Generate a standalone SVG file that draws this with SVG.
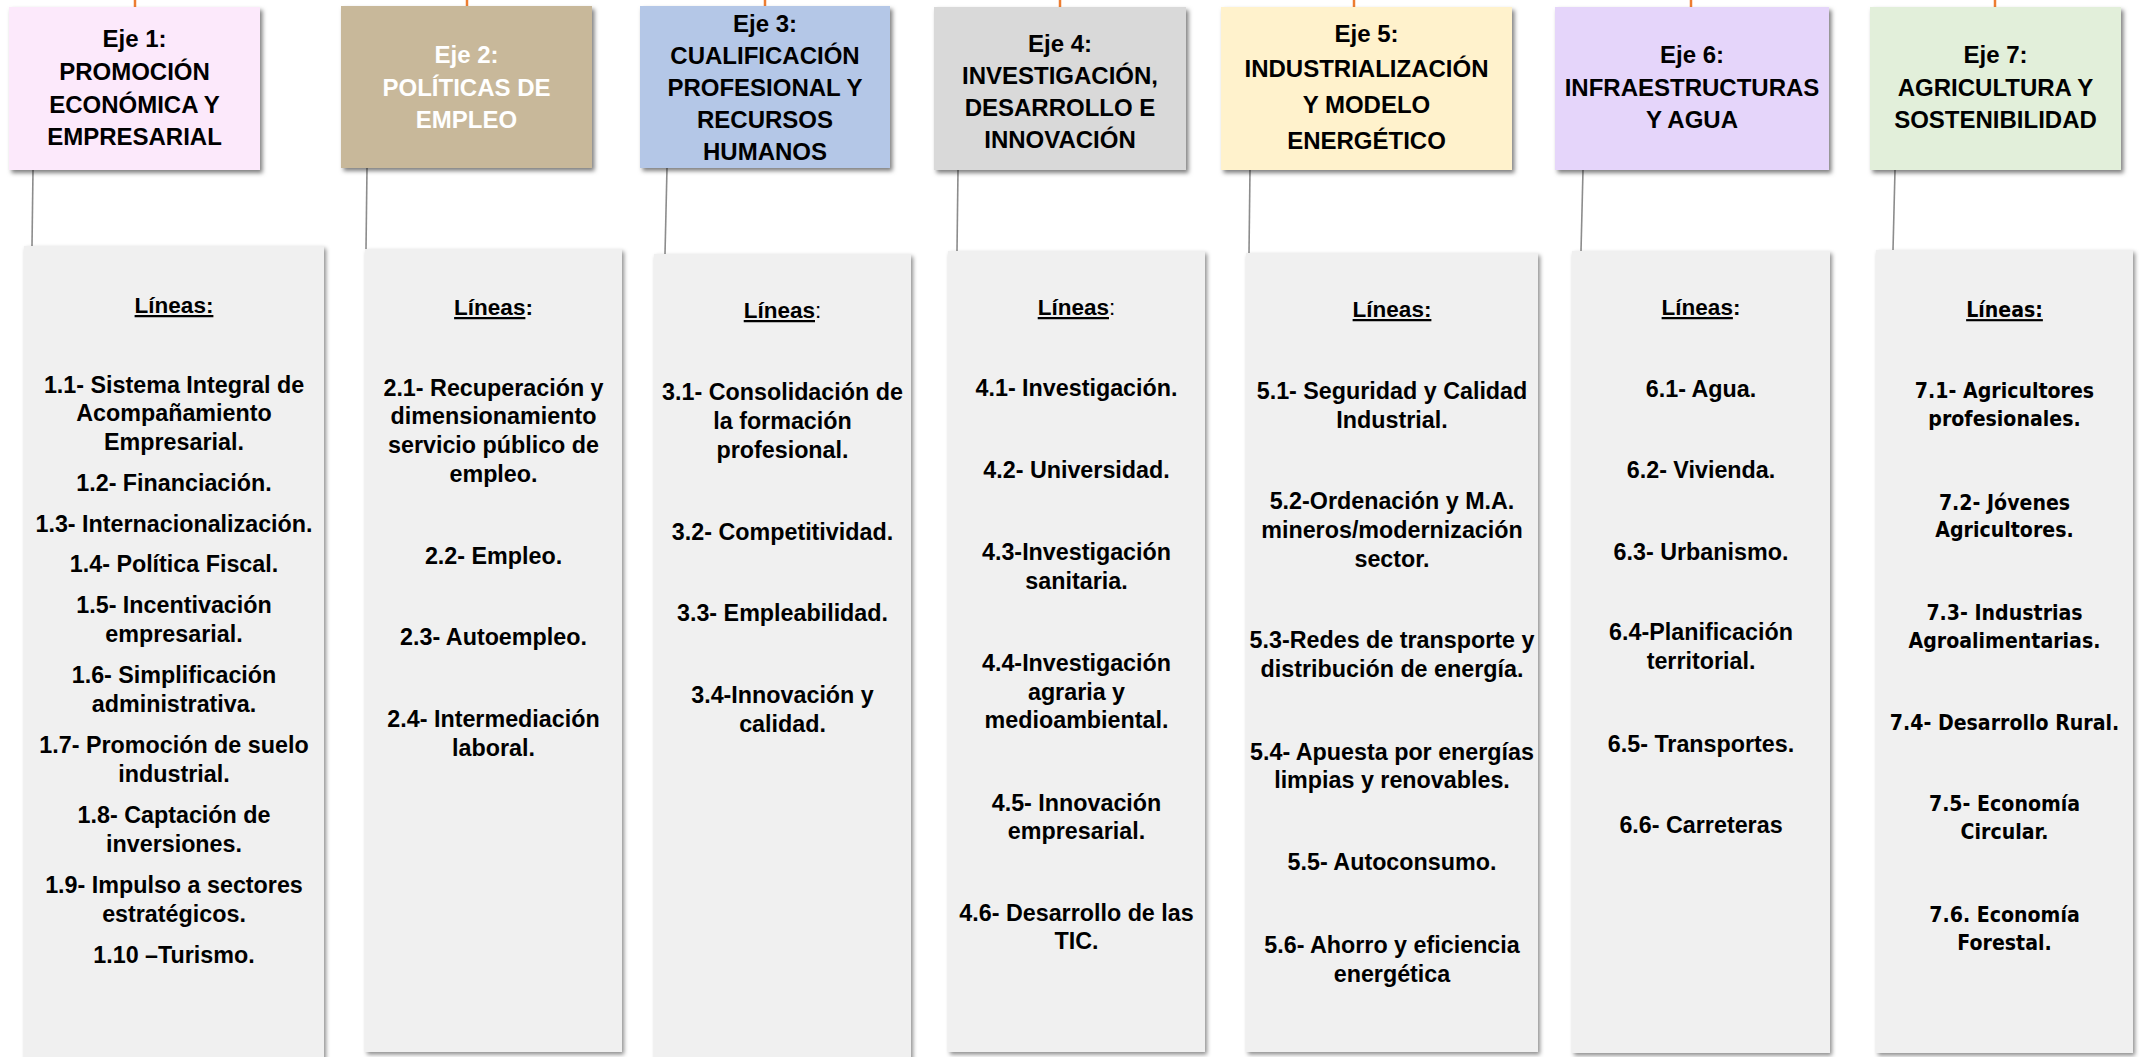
<svg xmlns="http://www.w3.org/2000/svg" width="2143" height="1057" viewBox="0 0 2143 1057">
<style>
  text { font-family: "Liberation Sans", Arial, sans-serif; font-weight: 700; text-anchor: middle; fill: #000; }
  .t { font-size: 24px; }
  .w { fill: #fff; }
  .i { font-size: 23.3px; }
  .h { font-size: 22.5px; }
  .v { font-family: "DejaVu Sans", Verdana, sans-serif; font-size: 21.5px; }
  .u { text-decoration: underline; }
  .n { font-weight: 400; }
  .lb { fill: #F0F0F0; filter: url(#sh2); }
  .tb { filter: url(#sh); }
  .org { stroke: #ED7D31; stroke-width: 2.5; fill: none; }
  .con { stroke: #8C8C8C; stroke-width: 1.6; fill: none; }
</style>
<defs>
  <filter id="sh" x="-10%" y="-10%" width="125%" height="130%">
    <feDropShadow dx="2.5" dy="3" stdDeviation="2" flood-color="#000" flood-opacity="0.5"/>
  </filter>
  <filter id="sh2" x="-10%" y="-5%" width="125%" height="115%">
    <feDropShadow dx="2" dy="2.5" stdDeviation="2" flood-color="#000" flood-opacity="0.45"/>
  </filter>
</defs>
<rect width="2143" height="1057" fill="#fff"/>

<g id="connectors">
  <line class="org" x1="135" y1="0" x2="135" y2="7"/>
  <line class="org" x1="467" y1="0" x2="467" y2="6"/>
  <line class="org" x1="765" y1="0" x2="765" y2="6"/>
  <line class="org" x1="1060" y1="0" x2="1060" y2="7"/>
  <line class="org" x1="1354" y1="0" x2="1354" y2="7"/>
  <line class="org" x1="1691" y1="0" x2="1691" y2="7"/>
  <line class="org" x1="1995" y1="0" x2="1995" y2="7"/>
  <line class="con" x1="33" y1="170" x2="32" y2="246"/>
  <line class="con" x1="367" y1="168" x2="366" y2="249"/>
  <line class="con" x1="667" y1="168" x2="665" y2="254"/>
  <line class="con" x1="958" y1="170" x2="957" y2="251"/>
  <line class="con" x1="1250" y1="170" x2="1249" y2="253"/>
  <line class="con" x1="1583" y1="170" x2="1581" y2="251"/>
  <line class="con" x1="1895" y1="170" x2="1893" y2="250"/>
</g>

<g id="eje1">
  <rect class="tb" x="9" y="7" width="251" height="163" fill="#FCE9FB"/>
  <text class="t" x="134.5" y="47">Eje 1:</text>
  <text class="t" x="134.5" y="80">PROMOCIÓN</text>
  <text class="t" x="134.5" y="113">ECONÓMICA Y</text>
  <text class="t" x="134.5" y="145">EMPRESARIAL</text>
</g>
<g id="eje2">
  <rect class="tb" x="341" y="6" width="251" height="162" fill="#C8B89A"/>
  <text class="t w" x="466.5" y="63">Eje 2:</text>
  <text class="t w" x="466.5" y="96">POLÍTICAS DE</text>
  <text class="t w" x="466.5" y="128">EMPLEO</text>
</g>
<g id="eje3">
  <rect class="tb" x="640" y="6" width="250" height="162" fill="#B4C7E7"/>
  <text class="t" x="765" y="32">Eje 3:</text>
  <text class="t" x="765" y="64">CUALIFICACIÓN</text>
  <text class="t" x="765" y="96">PROFESIONAL Y</text>
  <text class="t" x="765" y="128">RECURSOS</text>
  <text class="t" x="765" y="160">HUMANOS</text>
</g>
<g id="eje4">
  <rect class="tb" x="934" y="7" width="252" height="163" fill="#D9D9D9"/>
  <text class="t" x="1060" y="52">Eje 4:</text>
  <text class="t" x="1060" y="84">INVESTIGACIÓN,</text>
  <text class="t" x="1060" y="116">DESARROLLO E</text>
  <text class="t" x="1060" y="148">INNOVACIÓN</text>
</g>
<g id="eje5">
  <rect class="tb" x="1221" y="7" width="291" height="163" fill="#FFF2CC"/>
  <text class="t" x="1366.5" y="42">Eje 5:</text>
  <text class="t" x="1366.5" y="77">INDUSTRIALIZACIÓN</text>
  <text class="t" x="1366.5" y="113">Y MODELO</text>
  <text class="t" x="1366.5" y="149">ENERGÉTICO</text>
</g>
<g id="eje6">
  <rect class="tb" x="1555" y="7" width="274" height="163" fill="#E5D5FA"/>
  <text class="t" x="1692" y="63">Eje 6:</text>
  <text class="t" x="1692" y="96">INFRAESTRUCTURAS</text>
  <text class="t" x="1692" y="128">Y AGUA</text>
</g>
<g id="eje7">
  <rect class="tb" x="1870" y="7" width="251" height="163" fill="#E2EFDA"/>
  <text class="t" x="1995.5" y="63">Eje 7:</text>
  <text class="t" x="1995.5" y="96">AGRICULTURA Y</text>
  <text class="t" x="1995.5" y="128">SOSTENIBILIDAD</text>
</g>

<g id="lineas1">
  <rect class="lb" x="24" y="246" width="300" height="820"/>
  <text class="h u" x="174" y="313">Líneas:</text>
  <text class="i" x="174" y="393">1.1- Sistema Integral de</text>
  <text class="i" x="174" y="421">Acompañamiento</text>
  <text class="i" x="174" y="450">Empresarial.</text>
  <text class="i" x="174" y="491">1.2- Financiación.</text>
  <text class="i" x="174" y="532">1.3- Internacionalización.</text>
  <text class="i" x="174" y="572">1.4- Política Fiscal.</text>
  <text class="i" x="174" y="613">1.5- Incentivación</text>
  <text class="i" x="174" y="642">empresarial.</text>
  <text class="i" x="174" y="683">1.6- Simplificación</text>
  <text class="i" x="174" y="712">administrativa.</text>
  <text class="i" x="174" y="753">1.7- Promoción de suelo</text>
  <text class="i" x="174" y="782">industrial.</text>
  <text class="i" x="174" y="823">1.8- Captación de</text>
  <text class="i" x="174" y="852">inversiones.</text>
  <text class="i" x="174" y="893">1.9- Impulso a sectores</text>
  <text class="i" x="174" y="922">estratégicos.</text>
  <text class="i" x="174" y="963">1.10 –Turismo.</text>
</g>
<g id="lineas2">
  <rect class="lb" x="365" y="249" width="257" height="803"/>
  <text class="h" x="493.5" y="315"><tspan class="u">Líneas</tspan>:</text>
  <text class="i" x="493.5" y="396">2.1- Recuperación y</text>
  <text class="i" x="493.5" y="424">dimensionamiento</text>
  <text class="i" x="493.5" y="453">servicio público de</text>
  <text class="i" x="493.5" y="482">empleo.</text>
  <text class="i" x="493.5" y="564">2.2- Empleo.</text>
  <text class="i" x="493.5" y="645">2.3- Autoempleo.</text>
  <text class="i" x="493.5" y="727">2.4- Intermediación</text>
  <text class="i" x="493.5" y="756">laboral.</text>
</g>
<g id="lineas3">
  <rect class="lb" x="654" y="254" width="257" height="812"/>
  <text class="h" x="782.5" y="318"><tspan class="u">Líneas</tspan><tspan class="n">:</tspan></text>
  <text class="i" x="782.5" y="400">3.1- Consolidación de</text>
  <text class="i" x="782.5" y="429">la formación</text>
  <text class="i" x="782.5" y="458">profesional.</text>
  <text class="i" x="782.5" y="540">3.2- Competitividad.</text>
  <text class="i" x="782.5" y="621">3.3- Empleabilidad.</text>
  <text class="i" x="782.5" y="703">3.4-Innovación y</text>
  <text class="i" x="782.5" y="732">calidad.</text>
</g>
<g id="lineas4">
  <rect class="lb" x="948" y="251" width="257" height="801"/>
  <text class="h" x="1076.5" y="315"><tspan class="u">Líneas</tspan><tspan class="n">:</tspan></text>
  <text class="i" x="1076.5" y="396">4.1- Investigación.</text>
  <text class="i" x="1076.5" y="478">4.2- Universidad.</text>
  <text class="i" x="1076.5" y="560">4.3-Investigación</text>
  <text class="i" x="1076.5" y="589">sanitaria.</text>
  <text class="i" x="1076.5" y="671">4.4-Investigación</text>
  <text class="i" x="1076.5" y="700">agraria y</text>
  <text class="i" x="1076.5" y="728">medioambiental.</text>
  <text class="i" x="1076.5" y="811">4.5- Innovación</text>
  <text class="i" x="1076.5" y="839">empresarial.</text>
  <text class="i" x="1076.5" y="921">4.6- Desarrollo de las</text>
  <text class="i" x="1076.5" y="949">TIC.</text>
</g>
<g id="lineas5">
  <rect class="lb" x="1246" y="253" width="292" height="799"/>
  <text class="h u" x="1392" y="317">Líneas:</text>
  <text class="i" x="1392" y="399">5.1- Seguridad y Calidad</text>
  <text class="i" x="1392" y="428">Industrial.</text>
  <text class="i" x="1392" y="509">5.2-Ordenación y M.A.</text>
  <text class="i" x="1392" y="538">mineros/modernización</text>
  <text class="i" x="1392" y="567">sector.</text>
  <text class="i" x="1392" y="648">5.3-Redes de transporte y</text>
  <text class="i" x="1392" y="677">distribución de energía.</text>
  <text class="i" x="1392" y="760">5.4- Apuesta por energías</text>
  <text class="i" x="1392" y="788">limpias y renovables.</text>
  <text class="i" x="1392" y="870">5.5- Autoconsumo.</text>
  <text class="i" x="1392" y="953">5.6- Ahorro y eficiencia</text>
  <text class="i" x="1392" y="982">energética</text>
</g>
<g id="lineas6">
  <rect class="lb" x="1572" y="251" width="258" height="802"/>
  <text class="h" x="1701" y="315"><tspan class="u">Líneas</tspan>:</text>
  <text class="i" x="1701" y="397">6.1- Agua.</text>
  <text class="i" x="1701" y="478">6.2- Vivienda.</text>
  <text class="i" x="1701" y="560">6.3- Urbanismo.</text>
  <text class="i" x="1701" y="640">6.4-Planificación</text>
  <text class="i" x="1701" y="669">territorial.</text>
  <text class="i" x="1701" y="752">6.5- Transportes.</text>
  <text class="i" x="1701" y="833">6.6- Carreteras</text>
</g>
<g id="lineas7">
  <rect class="lb" x="1876" y="250" width="257" height="803"/>
  <g transform="translate(2004.5,0) scale(0.884,1)">
    <text class="v u" x="0" y="317">Líneas:</text>
    <text class="v" x="0" y="398">7.1- Agricultores</text>
    <text class="v" x="0" y="426">profesionales.</text>
    <text class="v" x="0" y="510">7.2- Jóvenes</text>
    <text class="v" x="0" y="537">Agricultores.</text>
    <text class="v" x="0" y="620">7.3- Industrias</text>
    <text class="v" x="0" y="648">Agroalimentarias.</text>
    <text class="v" x="0" y="730">7.4- Desarrollo Rural.</text>
    <text class="v" x="0" y="811">7.5- Economía</text>
    <text class="v" x="0" y="839">Circular.</text>
    <text class="v" x="0" y="922">7.6. Economía</text>
    <text class="v" x="0" y="950">Forestal.</text>
  </g>
</g>
</svg>
